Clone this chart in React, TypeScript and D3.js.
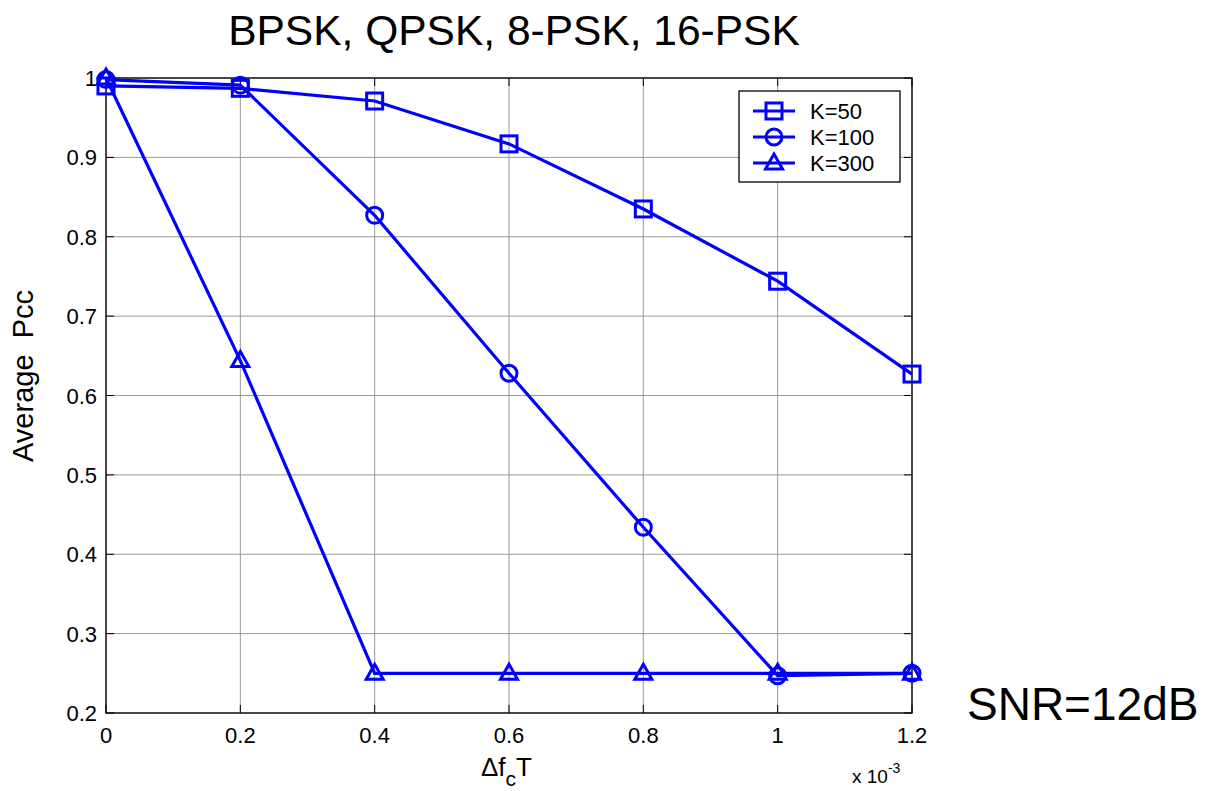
import React from "react";
import * as d3 from "d3";

const xValues = [0, 0.2, 0.4, 0.6, 0.8, 1.0, 1.2];
const k50 = [0.99, 0.987, 0.971, 0.917, 0.835, 0.744, 0.627];
const k100 = [0.998, 0.991, 0.827, 0.628, 0.434, 0.247, 0.25];
const k300 = [1.0, 0.644, 0.25, 0.25, 0.25, 0.25, 0.25];
const seriesNames = ["K=50", "K=100", "K=300"];
const markerTypes = ["square", "circle", "triangle"];
const xTicks = [0, 0.2, 0.4, 0.6, 0.8, 1, 1.2];
const yTicks = [0.2, 0.3, 0.4, 0.5, 0.6, 0.7, 0.8, 0.9, 1];

const W = 1208, H = 791;
const L = 106, R = 912, T = 78, B = 713;
const BLUE = "#0000ff";
const FONT = "Liberation Sans, Arial, sans-serif";

function Marker({ type, x, y }: { type: string; x: number; y: number }) {
  const s = 8;
  if (type === "square")
    return <rect x={x - s} y={y - s} width={2 * s} height={2 * s} fill="none" stroke={BLUE} strokeWidth={3} />;
  if (type === "circle")
    return <circle cx={x} cy={y} r={s} fill="none" stroke={BLUE} strokeWidth={3} />;
  return (
    <path
      d={`M${x},${y - 9} L${x + 8.5},${y + 6} L${x - 8.5},${y + 6} Z`}
      fill="none"
      stroke={BLUE}
      strokeWidth={3}
    />
  );
}

export default function App() {
  const xs = d3.scaleLinear().domain([0, 1.2]).range([L, R]);
  const ys = d3.scaleLinear().domain([0.2, 1]).range([B, T]);
  const series = [k50, k100, k300];
  const line = d3
    .line<number>()
    .x((_, i) => xs(xValues[i]))
    .y((d) => ys(d));
  const fmt = (v: number) => (Number.isInteger(v) ? String(v) : String(+v.toFixed(1)));

  return (
    <svg width={W} height={H} style={{ position: "absolute", left: 0, top: 0 }} fontFamily={FONT}>
      <rect x={0} y={0} width={W} height={H} fill="#fff" />
      {/* grid */}
      {xTicks.map((t) => (
        <line key={"gx" + t} x1={xs(t)} x2={xs(t)} y1={T} y2={B} stroke="#999" strokeWidth={1} />
      ))}
      {yTicks.map((t) => (
        <line key={"gy" + t} x1={L} x2={R} y1={ys(t)} y2={ys(t)} stroke="#999" strokeWidth={1} />
      ))}
      {/* ticks */}
      {xTicks.map((t) => (
        <g key={"tx" + t}>
          <line x1={xs(t)} x2={xs(t)} y1={B} y2={B - 8} stroke="#000" />
          <line x1={xs(t)} x2={xs(t)} y1={T} y2={T + 8} stroke="#000" />
          <text x={xs(t)} y={B + 30} fontSize={22} textAnchor="middle" fill="#000">
            {fmt(t)}
          </text>
        </g>
      ))}
      {yTicks.map((t) => (
        <g key={"ty" + t}>
          <line x1={L} x2={L + 8} y1={ys(t)} y2={ys(t)} stroke="#000" />
          <line x1={R} x2={R - 8} y1={ys(t)} y2={ys(t)} stroke="#000" />
          <text x={L - 9} y={ys(t) + 8} fontSize={22} textAnchor="end" fill="#000">
            {fmt(t)}
          </text>
        </g>
      ))}
      <rect x={L} y={T} width={R - L} height={B - T} fill="none" stroke="#000" strokeWidth={1.3} />
      {/* series */}
      {series.map((s, si) => (
        <g key={"s" + si}>
          <path d={line(s) || ""} fill="none" stroke={BLUE} strokeWidth={3.2} />
          {s.map((v, i) => (
            <Marker key={i} type={markerTypes[si]} x={xs(xValues[i])} y={ys(v)} />
          ))}
        </g>
      ))}
      {/* legend */}
      <rect x={739} y={91} width={161} height={91} fill="#fff" stroke="#000" strokeWidth={1.3} />
      {seriesNames.map((n, i) => {
        const yy = 111 + i * 26;
        return (
          <g key={n}>
            <line x1={753} x2={795} y1={yy} y2={yy} stroke={BLUE} strokeWidth={3.2} />
            <Marker type={markerTypes[i]} x={774} y={yy} />
            <text x={810} y={yy + 8} fontSize={22} fill="#000">
              {n}
            </text>
          </g>
        );
      })}
      {/* titles */}
      <text x={514} y={45} fontSize={42.5} textAnchor="middle" fill="#000">
        BPSK, QPSK, 8-PSK, 16-PSK
      </text>
      <text
        transform={`translate(33, 376) rotate(-90)`}
        fontSize={29}
        textAnchor="middle"
        fill="#000"
        style={{ whiteSpace: "pre" }}
      >
        {"Average  Pcc"}
      </text>
      <text x={481} y={776} fontSize={26} fill="#000">
        Δf
        <tspan fontSize={21} dy={10}>c</tspan>
        <tspan fontSize={26} dy={-10}>T</tspan>
      </text>
      <text x={852} y={783} fontSize={19} fill="#000">
        x 10
        <tspan fontSize={14} dy={-10}>-3</tspan>
      </text>
      <text x={967} y={720} fontSize={46} fill="#000">
        SNR=12dB
      </text>
    </svg>
  );
}
